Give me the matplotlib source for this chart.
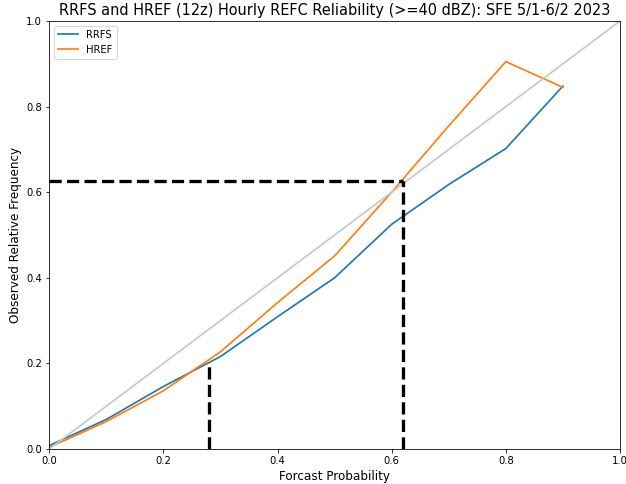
import numpy as np
import matplotlib.pyplot as plt

# forecast probability bins
prob = [0.0, 0.1, 0.2, 0.3, 0.4, 0.5, 0.6, 0.7, 0.8, 0.9]
rrfs = [0.008, 0.069, 0.146, 0.216, 0.309, 0.40, 0.525, 0.618, 0.702, 0.848]
href = [0.004, 0.064, 0.136, 0.227, 0.342, 0.451, 0.60, 0.755, 0.905, 0.845]

# reference lines (dashed markers)
hit_x = 0.62
hit_y = 0.626
low_x = 0.28
low_y = 0.20

fig = plt.figure(figsize=(626 / 72, 484 / 72), dpi=72)
ax = fig.add_axes([49.2 / 626, 35 / 484, (620 - 49.2) / 626, 428 / 484])

ax.plot(prob, rrfs, label='RRFS', color='#1f77b4', lw=1.7)
ax.plot(prob, href, label='HREF', color='#ff7f0e', lw=1.7)
ax.plot([0, 1], [0, 1], color='#c8c8c8', lw=1.7)

ax.plot([0, hit_x], [hit_y, hit_y], 'k--', lw=3.3)
ax.plot([hit_x, hit_x], [0, hit_y], 'k--', lw=3.3)
ax.plot([low_x, low_x], [0, low_y], 'k--', lw=3.3)

ax.set_xlim(0, 1)
ax.set_ylim(0, 1)
ax.set_title("RRFS and HREF (12z) Hourly REFC Reliability (>=40 dBZ): SFE 5/1-6/2 2023", fontsize=14.5)
ax.set_xlabel("Forcast Probability", fontsize=12)
ax.set_ylabel("Observed Relative Frequency", fontsize=12)
ax.tick_params(labelsize=10)
ax.legend(loc='upper left', fontsize=10)

fig.savefig('out.png', dpi=72)
